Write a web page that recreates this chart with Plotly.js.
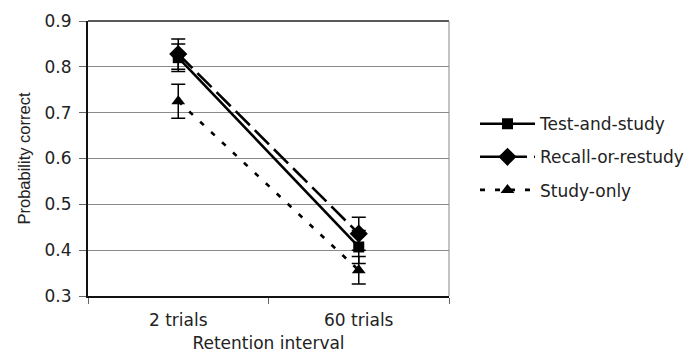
<!DOCTYPE html>
<html>
<head>
<meta charset="utf-8">
<script src="https://cdn.plot.ly/plotly-3.0.1.min.js"></script>
<style>html,body{margin:0;padding:0;background:#fff;}#chart{width:692px;height:356px;}</style>
</head>
<body>
<div id="chart"></div>
<script>
var categories = ["2 trials", "60 trials"];
var seriesNames = ["Test-and-study", "Recall-or-restudy", "Study-only"];
var testAndStudy = [0.820, 0.407];
var testAndStudyErr = [0.030, 0.036];
var recallOrRestudy = [0.828, 0.436];
var recallOrRestudyErr = [0.033, 0.036];
var studyOnly = [0.725, 0.356];
var studyOnlyErr = [0.037, 0.030];
var yTicks = [0.3, 0.4, 0.5, 0.6, 0.7, 0.8, 0.9];

var font = "DejaVu Sans, sans-serif";
var font2 = "Liberation Sans, Arial, sans-serif";

function mk(name, y, err, dash, symbol, msize, grp, rank) {
  return {
    type: "scatter", mode: "lines+markers", name: name, legendgroup: grp, legendrank: rank,
    x: categories, y: y,
    line: {color: "#000", width: 2.6, dash: dash},
    marker: {symbol: symbol, size: msize, color: "#000"},
    error_y: {type: "data", array: err, visible: true, color: "#000", thickness: 1.5, width: 7}
  };
}

var traces = [
  mk(seriesNames[2], studyOnly, studyOnlyErr, "5px,10px", "triangle-up", 12, "c", 3),
  mk(seriesNames[1], recallOrRestudy, recallOrRestudyErr, "20px,7px", "diamond", 14, "b", 2),
  mk(seriesNames[0], testAndStudy, testAndStudyErr, "solid", "square", 11, "a", 1)
];

var layout = {
  width: 692, height: 356,
  margin: {l: 88, r: 243, t: 21, b: 60, autoexpand: false},
  paper_bgcolor: "#fff", plot_bgcolor: "#fff",
  font: {family: font, size: 17, color: "#222"},
  showlegend: true,
  legend: {
    x: 1.072, xanchor: "left", y: 0.505, yanchor: "middle",
    traceorder: "grouped",
    font: {family: font, size: 17, color: "#222"},
    tracegroupgap: 8, itemwidth: 55,
    bgcolor: "rgba(0,0,0,0)"
  },
  xaxis: {
    type: "category", range: [-0.5, 1.5],
    showgrid: false, showline: true, linecolor: "#111", linewidth: 2,
    ticks: "outside", tickson: "boundaries", ticklen: 6, tickcolor: "#666",
    ticklabelstandoff: 8,
    tickfont: {family: font, size: 17, color: "#222"},
    title: {text: "Retention interval", font: {family: font, size: 17, color: "#222"}, standoff: 8},
    zeroline: false
  },
  yaxis: {
    range: [0.3, 0.9], tickvals: yTicks, tickformat: ".1f",
    showgrid: true, gridcolor: "#8a8a8a", gridwidth: 1,
    showline: true, linecolor: "#111", linewidth: 2,
    ticks: "outside", ticklen: 7, tickcolor: "#666",
    ticklabelstandoff: 4,
    tickfont: {family: font, size: 17, color: "#222"},
    title: {text: "Probability correct", font: {family: font2, size: 16.5, color: "#222"}, standoff: 10},
    zeroline: false
  },
  shapes: [
    {type: "line", xref: "paper", yref: "paper", x0: 0, x1: 1, y0: 1, y1: 1, line: {color: "#222", width: 1.5}},
    {type: "line", xref: "paper", yref: "paper", x0: 1, x1: 1, y0: 0, y1: 1, line: {color: "#888", width: 1}}
  ]
};

Plotly.newPlot("chart", traces, layout, {displayModeBar: false, staticPlot: true});
</script>
</body>
</html>
